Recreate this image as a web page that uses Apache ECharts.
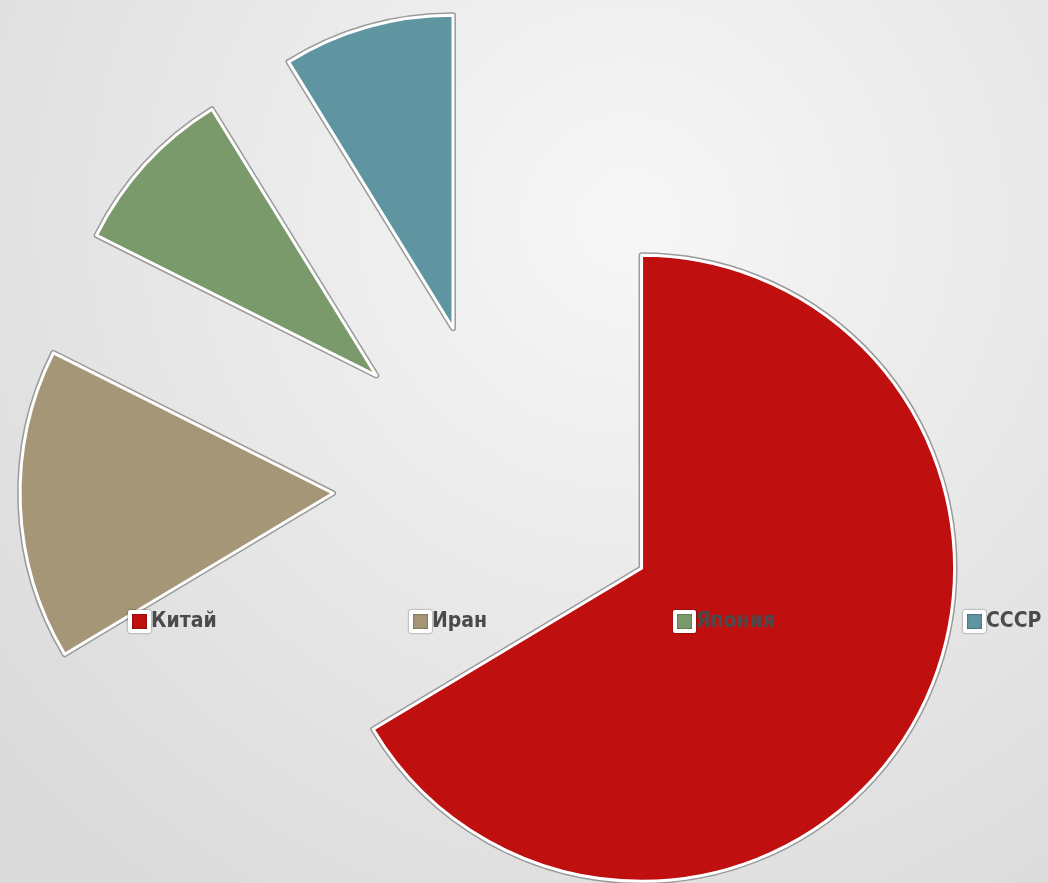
<!DOCTYPE html>
<html>
<head>
<meta charset="utf-8">
<script src="https://cdn.jsdelivr.net/npm/echarts@6/dist/echarts.min.js"></script>
<style>
html,body{margin:0;padding:0;width:1048px;height:883px;overflow:hidden;}
#chart{width:1048px;height:883px;}
</style>
</head>
<body>
<div id="chart"></div>
<script>
const categories = ['Китай', 'Иран', 'Япония', 'СССР'];
const values = [66.4, 16.0, 8.8, 8.8];
const colors = ['#c00f0f', '#a59677', '#7b9a6b', '#5f95a0'];
const legendLeft = [128, 409, 673, 963];

const chart = echarts.init(document.getElementById('chart'));

const dataFront = categories.map((c, i) => ({
  name: c, value: values[i], selected: true,
  itemStyle: { color: colors[i] }
}));
const dataBack = categories.map((c, i) => ({
  name: c, value: values[i], selected: true,
  itemStyle: { color: colors[i] }
}));

const pieCommon = {
  type: 'pie',
  center: [498, 487],
  radius: [0, 313],
  startAngle: 90,
  clockwise: true,
  selectedMode: 'multiple',
  selectedOffset: 165,
  avoidLabelOverlap: false,
  label: { show: false },
  labelLine: { show: false },
  emphasis: { scale: false, disabled: true },
  animation: false
};

const legends = categories.map((c, i) => ({
  data: [{ name: c, itemStyle: { color: colors[i], borderColor: '#ffffff', borderWidth: 4, shadowColor: 'rgba(0,0,0,0.6)', shadowBlur: 2 } }],
  left: legendLeft[i],
  top: 610,
  itemWidth: 19,
  itemHeight: 19,
  itemGap: 0,
  padding: 0,
  selectedMode: false,
  icon: 'rect',
  textStyle: {
    fontFamily: "'DejaVu Sans Condensed', 'DejaVu Sans', sans-serif",
    fontStyle: 'condensed',
    fontWeight: 'bold',
    fontSize: 21,
    color: '#4a4a4a',
    padding: [0, 0, 0, -3]
  }
}));

chart.setOption({
  backgroundColor: new echarts.graphic.RadialGradient(0.6, 0.25, 0.95, [
    { offset: 0, color: '#f7f7f7' },
    { offset: 1, color: '#dadada' }
  ]),
  legend: legends,
  series: [
    Object.assign({}, pieCommon, {
      name: 'front', z: 3, data: dataFront,
      itemStyle: { borderColor: '#ffffff', borderWidth: 3 }
    }),
    Object.assign({}, pieCommon, {
      name: 'back', z: 2, silent: true, legendHoverLink: false, data: dataBack,
      itemStyle: { borderColor: '#9a9a9a', borderWidth: 6 }
    })
  ]
});
</script>
</body>
</html>
